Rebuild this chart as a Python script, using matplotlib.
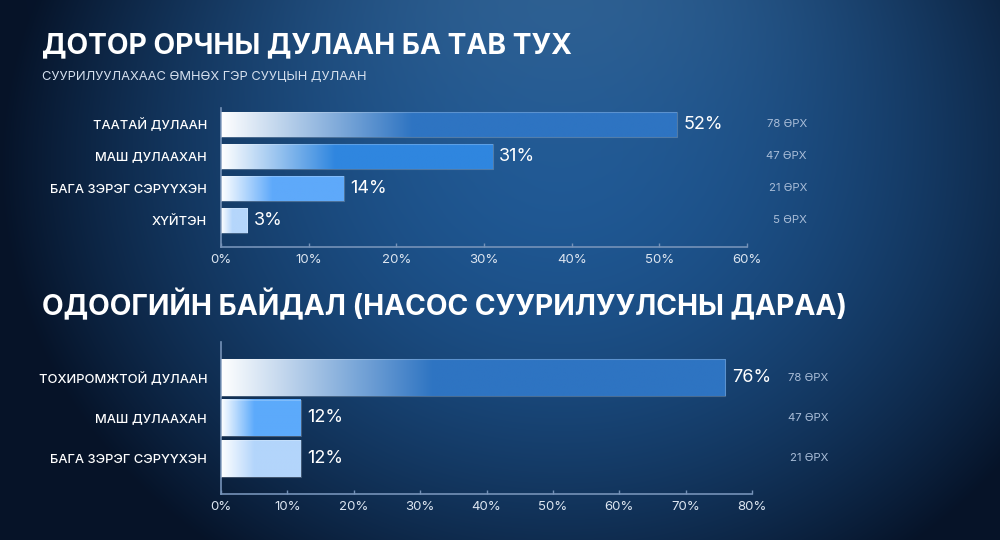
import numpy as np
import matplotlib
matplotlib.use("Agg")
import matplotlib.pyplot as plt
from matplotlib.colors import to_rgb

plt.rcParams['font.family'] = ['Inter', 'DejaVu Sans']

# ---------------- data ----------------
title1 = "ДОТОР ОРЧНЫ ДУЛААН БА ТАВ ТУХ"
subtitle1 = "СУУРИЛУУЛАХААС ӨМНӨХ ГЭР СУУЦЫН ДУЛААН"
cats1 = ["ТААТАЙ ДУЛААН", "МАШ ДУЛААХАН", "БАГА ЗЭРЭГ СЭРҮҮХЭН", "ХҮЙТЭН"]
vals1 = [52, 31, 14, 3]
hh1 = [78, 47, 21, 5]
ticks1 = [0, 10, 20, 30, 40, 50, 60]

title2 = "ОДООГИЙН БАЙДАЛ (НАСОС СУУРИЛУУЛСНЫ ДАРАА)"
cats2 = ["ТОХИРОМЖТОЙ ДУЛААН", "МАШ ДУЛААХАН", "БАГА ЗЭРЭГ СЭРҮҮХЭН"]
vals2 = [76, 12, 12]
hh2 = [78, 47, 21]
ticks2 = [0, 10, 20, 30, 40, 50, 60, 70, 80]

colors1 = ["#2E74C2", "#2F86DF", "#5EA9FA", "#B5D6FB"]
colors2 = ["#2E74C2", "#5CAAFB", "#B3D5FB"]

W, H = 1000, 540
fig = plt.figure(figsize=(W / 100, H / 100), dpi=100)

# ---------------- background ----------------
bg = fig.add_axes([0, 0, 1, 1])
yy, xx = np.mgrid[0:H, 0:W]
cx, cy = 560, 170
r = np.sqrt(((xx - cx) / 560.0) ** 2 + ((yy - cy) / 480.0) ** 2)
t = np.clip(r, 0, 1) ** 1.8
c_in = np.array(to_rgb("#1F5894"))
c_out = np.array(to_rgb("#061328"))
img = c_in[None, None, :] * (1 - t[..., None]) + c_out[None, None, :] * t[..., None]
hl = np.exp(-(((xx - 560) / 260.0) ** 2 + ((yy + 20) / 140.0) ** 2))
img = img + hl[..., None] * (np.array(to_rgb("#3A6C9C")) - img) * 0.6
bg.imshow(np.clip(img, 0, 1), extent=[0, 1, 0, 1], aspect='auto', zorder=-10)
bg.set_axis_off()

spine_col = "#7592B8"
tick_col = "#DCE5F0"


def grad_bar(ax, y, v, h, color):
    c = np.array(to_rgb(color))
    n = 256
    s = np.linspace(0, 1, n)
    f = np.clip(s / 0.42, 0, 1)
    row = np.ones((n, 3)) * (1 - f[:, None]) + c[None, :] * f[:, None]
    ax.imshow(row[None, :, :], extent=[0, v, y + h / 2, y - h / 2],
              aspect='auto', zorder=2, interpolation='bilinear')
    ax.barh(y, v, height=h, left=0, facecolor='none',
            edgecolor=(1, 1, 1, 0.22), linewidth=0.8, zorder=3)


def panel(rect, cats, vals, hh, colors, ticks, xmax, ylim, h, hh_x):
    ax = fig.add_axes(rect)
    ax.set_facecolor('none')
    for i, (v, c) in enumerate(zip(vals, colors)):
        grad_bar(ax, i, v, h, c)
        ax.text(v + xmax * 0.012, i, f"{v}%", color='white', fontsize=13,
                va='center', ha='left', zorder=4)
        ax.text(hh_x, i, f"{hh[i]} ӨРХ", color="#A9BDD8", fontsize=8.2,
                va='center', ha='right', transform=ax.get_yaxis_transform())
    ax.set_xlim(0, xmax)
    ax.set_ylim(*ylim)
    ax.set_yticks(range(len(cats)))
    ax.set_yticklabels(cats, color='white', fontsize=9.3, fontweight=500)
    ax.tick_params(axis='y', length=0, pad=10)
    ax.set_xticks(ticks)
    ax.set_xticklabels([f"{t}%" for t in ticks], color=tick_col, fontsize=9.5)
    ax.tick_params(axis='x', direction='in', length=3, width=1, color=spine_col, pad=5)
    for s in ['top', 'right']:
        ax.spines[s].set_visible(False)
    for s in ['left', 'bottom']:
        ax.spines[s].set_color(spine_col)
        ax.spines[s].set_linewidth(1.2)
    return ax


panel([221 / W, 1 - 247 / H, (747 - 221) / W, (247 - 108) / H],
      cats1, vals1, hh1, colors1, ticks1, 60, (3.84, -0.5), 0.78, (807 - 221) / 526)
panel([221 / W, 1 - 494 / H, (752 - 221) / W, (494 - 342) / H],
      cats2, vals2, hh2, colors2, ticks2, 80, (2.877, -0.877), 0.91, (828 - 221) / 531)

fig.text(42 / W, 1 - 46 / H, title1, color='white', fontsize=20.3, weight='bold',
         va='center', ha='left')
fig.text(42 / W, 1 - 77.5 / H, subtitle1, color='#D5E0EE', fontsize=9.3,
         va='center', ha='left')
fig.text(42 / W, 1 - 305 / H, title2, color='white', fontsize=20.3, weight='bold',
         va='center', ha='left')

fig.savefig("out.png", dpi=100)
